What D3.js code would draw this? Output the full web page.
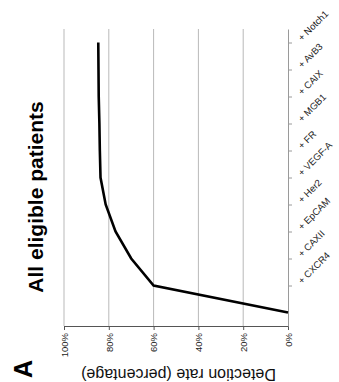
<!DOCTYPE html>
<html>
<head>
<meta charset="utf-8">
<script src="https://cdn.jsdelivr.net/npm/d3@7"></script>
<style>
  html, body { margin: 0; padding: 0; background: #fff; }
  svg { display: block; font-family: "Liberation Sans", Arial, Helvetica, sans-serif; }
</style>
</head>
<body>
<svg id="chart" width="339" height="382"></svg>
<script>
// Cumulative detection rate as markers are added one after another
const categories = ["", "+ CXCR4", "+ CAXII", "+ EpCAM", "+ Her2", "+ VEGF-A",
                    "+ FR", "+ MGB1", "+ CAIX", "+ AvB3", "+ Notch1"];
const detectionRate = [0, 60, 70, 77, 81.4, 83.7, 84.0, 84.2, 84.5, 84.6, 84.7];
const rateTicks = [0, 20, 40, 60, 80, 100];

const svg = d3.select("#chart");

// Figure is laid out turned on its side: values run right-to-left, markers bottom-to-top
const plot = { left: 64, right: 288, top: 29, bottom: 326 };

const x = d3.scaleLinear().domain([0, 100]).range([plot.right, plot.left]);
const y = d3.scalePoint().domain(categories).range([plot.bottom, plot.top]).padding(0.5);

// Gridlines
svg.append("g")
  .selectAll("line")
  .data(rateTicks.filter(d => d > 0))
  .join("line")
  .attr("x1", d => x(d)).attr("x2", d => x(d))
  .attr("y1", plot.top).attr("y2", plot.bottom)
  .attr("stroke", "#b9b9b9")
  .attr("stroke-width", 1);

// Value axis (bottom)
const xAxis = svg.append("g")
  .attr("transform", `translate(0,${plot.bottom})`)
  .call(d3.axisBottom(x).tickValues(rateTicks).tickSize(4).tickSizeOuter(0)
        .tickFormat(d => d + "%"));
xAxis.select(".domain").attr("stroke", "#555").attr("stroke-width", 1.2);
xAxis.selectAll(".tick line").attr("stroke", "#555");
xAxis.selectAll(".tick text")
  .attr("font-size", 9.5)
  .attr("fill", "#222")
  .attr("text-anchor", "end")
  .attr("transform", "rotate(-90)")
  .attr("x", -7)
  .attr("y", 0)
  .attr("dy", "0.35em");

// Category axis (right)
const yAxis = svg.append("g")
  .attr("transform", `translate(${plot.right},0)`)
  .call(d3.axisRight(y).tickValues(categories.slice(1)).tickSize(4).tickSizeOuter(0));
yAxis.select(".domain").attr("stroke", "#9a9a9a");
yAxis.selectAll(".tick line").attr("stroke", "#9a9a9a");
yAxis.selectAll(".tick text")
  .attr("font-size", 9.5)
  .attr("fill", "#222")
  .attr("text-anchor", "start")
  .attr("x", 0).attr("y", 0).attr("dy", 0)
  .attr("transform", "translate(14,-1.5) rotate(-45)");

// Detection-rate line
const line = d3.line()
  .x(d => x(d.v))
  .y(d => y(d.c));
svg.append("path")
  .datum(categories.map((c, i) => ({ c, v: detectionRate[i] })))
  .attr("d", line)
  .attr("fill", "none")
  .attr("stroke", "#000")
  .attr("stroke-width", 2.6)
  .attr("stroke-linejoin", "miter");

// Title
svg.append("text")
  .attr("transform", `translate(43,197) rotate(-90)`)
  .attr("text-anchor", "middle")
  .attr("font-size", 21)
  .attr("font-weight", "bold")
  .attr("fill", "#000")
  .text("All eligible patients");

// Value axis title
svg.append("text")
  .attr("transform", `translate(178.5,368.5) rotate(180)`)
  .attr("text-anchor", "middle")
  .attr("font-size", 16)
  .attr("fill", "#111")
  .text("Detection rate (percentage)");

// Panel letter
svg.append("text")
  .attr("transform", `translate(32,369) rotate(-90)`)
  .attr("text-anchor", "middle")
  .attr("font-size", 25)
  .attr("font-weight", "bold")
  .attr("fill", "#000")
  .text("A");
</script>
</body>
</html>
